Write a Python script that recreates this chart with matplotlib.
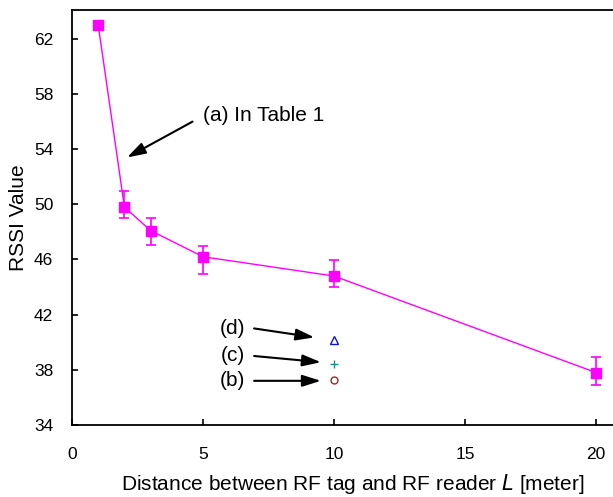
import numpy as np
import matplotlib.pyplot as plt

plt.rcParams['font.family'] = ['Liberation Sans', 'DejaVu Sans']

# measured RSSI vs distance
dist = [1, 2, 3, 5, 10, 20]
rssi = [63.0, 49.8, 48.1, 46.2, 44.8, 37.8]
err_lo = [0.0, 0.8, 1.05, 1.25, 0.8, 0.9]
err_hi = [0.0, 1.2, 0.9, 0.75, 1.15, 1.1]

# extra single points at 10 m
b_x, b_y = [10], [37.25]
c_x, c_y = [10], [38.4]
d_x, d_y = [10], [40.15]

fig = plt.figure(figsize=(6.13, 4.97), dpi=100)
ax = fig.add_axes([0.1175, 0.145, 0.8825, 0.835])

ax.errorbar(dist, rssi, yerr=[err_lo, err_hi], color='#ff00ff', lw=1,
            marker='s', ms=7, capsize=3.5, elinewidth=1.2, capthick=1.2)
ax.plot(b_x, b_y, 'o', mfc='none', mec='#9b2a2a', ms=5, mew=1)
ax.plot(c_x, c_y, '+', color='#1a8f8f', ms=6, mew=1)
ax.plot(d_x, d_y, '^', mfc='none', mec='#1010e0', ms=5.5, mew=1)

arr = dict(arrowstyle='-|>,head_length=0.7,head_width=0.22', color='black',
           lw=1.5, mutation_scale=16, shrinkA=0, shrinkB=0)
ax.text(5.0, 56.45, '(a) In Table 1', fontsize=15, va='center', ha='left')
ax.annotate('', xy=(2.1, 53.4), xytext=(4.6, 56.0), arrowprops=arr)
ax.annotate('', xy=(9.25, 40.35), xytext=(6.95, 41.0), arrowprops=arr)
ax.annotate('', xy=(9.5, 38.55), xytext=(6.95, 39.0), arrowprops=arr)
ax.annotate('', xy=(9.5, 37.2), xytext=(6.95, 37.2), arrowprops=arr)
ax.text(6.6, 41.0, '(d)', fontsize=15, ha='right', va='center')
ax.text(6.6, 39.0, '(c)', fontsize=15, ha='right', va='center')
ax.text(6.6, 37.2, '(b)', fontsize=15, ha='right', va='center')

ax.set_xlim(0, 20.65)
ax.set_ylim(34, 64.1)
ax.set_xticks([0, 5, 10, 15, 20])
ax.set_yticks(np.arange(34, 63, 4))
ax.tick_params(direction='in', labelsize=12.5, length=4, width=1.2)
ax.tick_params(axis='x', pad=16)
ax.tick_params(axis='y', pad=13.5)
ax.spines['right'].set_visible(False)
for s in ['left', 'bottom', 'top']:
    ax.spines[s].set_linewidth(1.3)

ax.set_xlabel('Distance between RF tag and RF reader $L$ [meter]', fontsize=15, labelpad=7)
ax.xaxis.label.set_x(0.518)
ax.set_ylabel('RSSI Value', fontsize=15, labelpad=4)

fig.savefig('out.png', dpi=100)
